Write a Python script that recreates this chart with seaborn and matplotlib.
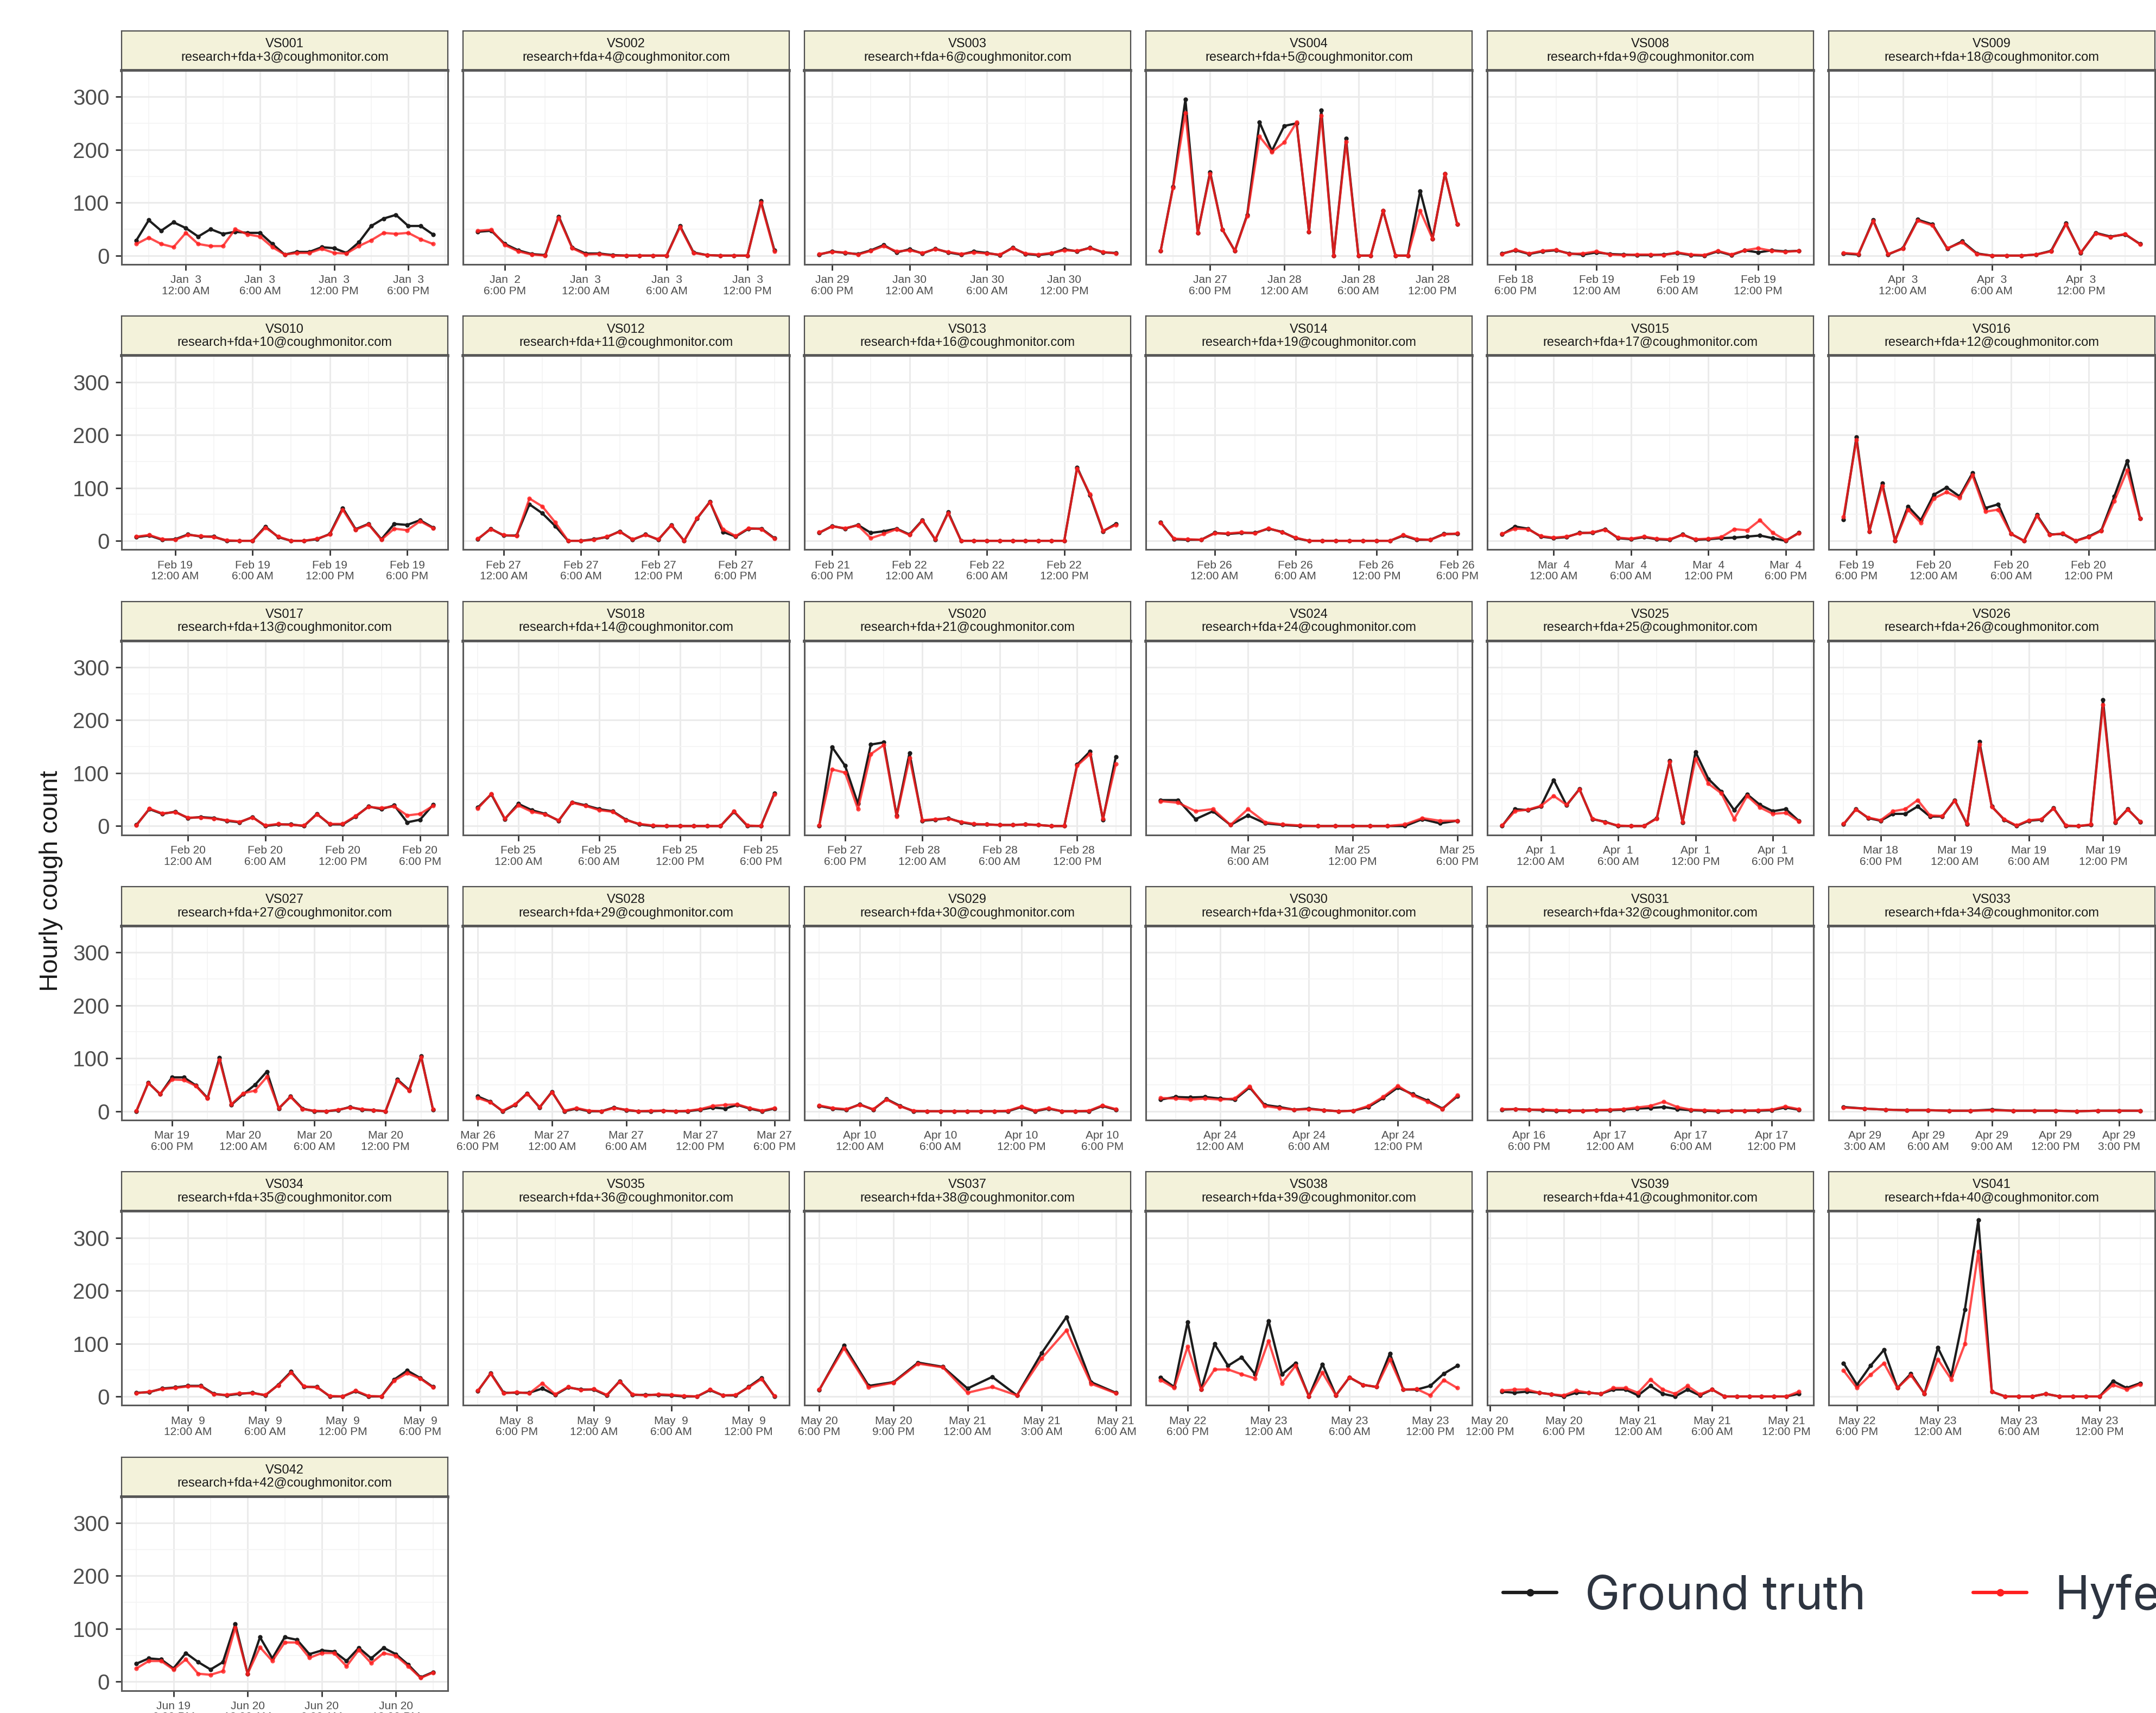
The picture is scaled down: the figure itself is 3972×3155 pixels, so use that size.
import matplotlib
matplotlib.use("Agg")
import matplotlib.pyplot as plt
import matplotlib.dates as mdates
from matplotlib.lines import Line2D
from matplotlib.ticker import AutoMinorLocator, MultipleLocator
import pandas as pd
import seaborn as sns

# ---- facets (facet_wrap order, 6 columns) ----
panel_ids = ["VS001", "VS002", "VS003", "VS004", "VS008", "VS009",
             "VS010", "VS012", "VS013", "VS014", "VS015", "VS016",
             "VS017", "VS018", "VS020", "VS024", "VS025", "VS026",
             "VS027", "VS028", "VS029", "VS030", "VS031", "VS033",
             "VS034", "VS035", "VS037", "VS038", "VS039", "VS041",
             "VS042"]
panel_emails = ["research+fda+%d@coughmonitor.com" % k for k in
                [3, 4, 6, 5, 9, 18, 10, 11, 16, 19, 17, 12, 13, 14, 21, 24,
                 25, 26, 27, 29, 30, 31, 32, 34, 35, 36, 38, 39, 41, 40, 42]]
panel_starts = ["2021-01-02 20:00", "2021-01-02 16:00", "2021-01-29 17:00",
                "2021-01-27 14:00", "2021-02-18 17:00", "2021-04-02 20:00",
                "2021-02-18 21:00", "2021-02-26 22:00", "2021-02-21 17:00",
                "2021-02-25 20:00", "2021-03-03 20:00", "2021-02-19 17:00",
                "2021-02-19 20:00", "2021-02-24 21:00", "2021-02-27 16:00",
                "2021-03-25 01:00", "2021-03-31 21:00", "2021-03-18 15:00",
                "2021-03-19 15:00", "2021-03-26 18:00", "2021-04-09 21:00",
                "2021-04-23 20:00", "2021-04-16 16:00", "2021-04-29 02:00",
                "2021-05-08 20:00", "2021-05-08 15:00", "2021-05-20 18:00",
                "2021-05-22 16:00", "2021-05-20 13:00", "2021-05-22 17:00",
                "2021-06-19 15:00"]
# hours between major x breaks
break_hours = [6] * 23 + [3] + [6, 6, 3] + [6] * 4

# ---- hourly counts ----
gt_vs001 = [29, 67, 47, 63, 52, 36, 50, 41, 45, 43, 43, 22, 2, 7, 7, 16, 14, 5, 25, 56, 70, 77, 56, 56, 40]
hy_vs001 = [22, 34, 22, 16, 43, 22, 18, 18, 50, 40, 36, 16, 2, 5, 5, 13, 5, 4, 18, 29, 43, 41, 43, 31, 22]
gt_vs002 = [45, 47, 22, 10, 3, 1, 74, 15, 4, 4, 1, 0, 0, 0, 0, 56, 6, 1, 0, 0, 0, 103, 10]
hy_vs002 = [47, 49, 20, 8, 2, 0, 72, 14, 2, 3, 0, 0, 0, 0, 0, 54, 5, 1, 0, 0, 0, 100, 8]
gt_vs003 = [2, 8, 5, 3, 10, 20, 6, 12, 4, 13, 6, 2, 8, 5, 1, 15, 3, 1, 4, 12, 8, 15, 6, 5]
hy_vs003 = [3, 7, 6, 2, 9, 18, 8, 10, 5, 12, 7, 3, 6, 4, 2, 14, 4, 2, 5, 10, 9, 14, 7, 4]
gt_vs004 = [9, 130, 295, 43, 158, 49, 9, 77, 252, 198, 245, 250, 45, 275, 0, 221, 0, 0, 85, 0, 0, 122, 32, 155, 59]
hy_vs004 = [9, 128, 270, 43, 155, 49, 9, 75, 225, 196, 214, 252, 45, 265, 0, 215, 0, 0, 85, 0, 0, 85, 32, 155, 59]
gt_vs008 = [4, 10, 3, 8, 10, 4, 2, 6, 3, 2, 1, 1, 2, 5, 1, 0, 8, 1, 10, 6, 10, 8, 9]
hy_vs008 = [3, 11, 4, 9, 11, 3, 4, 8, 2, 1, 2, 2, 1, 6, 2, 1, 9, 2, 10, 14, 9, 7, 9]
gt_vs009 = [4, 2, 67, 2, 14, 68, 59, 13, 27, 4, 0, 0, 0, 2, 9, 61, 5, 43, 36, 40, 22]
hy_vs009 = [5, 3, 65, 3, 13, 66, 57, 14, 25, 3, 0, 0, 0, 2, 8, 59, 6, 42, 35, 41, 21]
gt_vs010 = [7, 10, 2, 3, 12, 8, 8, 0, 0, 0, 27, 7, 0, 0, 3, 13, 62, 22, 32, 3, 32, 30, 39, 25]
hy_vs010 = [8, 11, 3, 2, 11, 9, 7, 1, 0, 0, 25, 8, 0, 0, 4, 12, 59, 21, 31, 2, 23, 20, 37, 24]
gt_vs012 = [3, 23, 10, 10, 69, 52, 28, 0, 0, 3, 7, 18, 2, 12, 2, 30, 0, 42, 74, 17, 8, 23, 23, 5]
hy_vs012 = [4, 22, 11, 9, 80, 65, 35, 0, 0, 2, 8, 17, 3, 11, 3, 29, 0, 43, 73, 22, 9, 24, 22, 4]
gt_vs013 = [15, 28, 23, 30, 15, 18, 23, 12, 39, 2, 54, 0, 0, 0, 0, 0, 0, 0, 0, 0, 139, 86, 18, 32]
hy_vs013 = [16, 27, 24, 29, 5, 13, 22, 11, 38, 3, 52, 0, 0, 0, 0, 0, 0, 0, 0, 0, 137, 88, 19, 30]
gt_vs014 = [35, 3, 2, 2, 15, 13, 15, 15, 23, 17, 5, 0, 0, 0, 0, 0, 0, 0, 10, 2, 2, 13, 13]
hy_vs014 = [34, 4, 3, 2, 14, 14, 16, 14, 24, 16, 6, 0, 0, 0, 0, 0, 0, 0, 11, 3, 2, 12, 14]
gt_vs015 = [12, 27, 23, 8, 5, 7, 15, 15, 22, 5, 3, 7, 3, 2, 12, 2, 3, 5, 6, 8, 10, 5, 0, 15]
hy_vs015 = [13, 23, 22, 9, 6, 8, 14, 16, 21, 6, 4, 8, 4, 3, 11, 3, 4, 7, 22, 20, 39, 15, 1, 14]
gt_vs016 = [40, 196, 18, 109, 0, 65, 39, 87, 101, 84, 128, 62, 69, 13, 0, 49, 12, 13, 0, 8, 20, 84, 151, 42]
hy_vs016 = [45, 191, 18, 104, 0, 59, 34, 80, 92, 81, 124, 55, 59, 13, 0, 47, 11, 14, 0, 7, 19, 75, 133, 42]
gt_vs017 = [2, 32, 23, 27, 15, 17, 15, 10, 7, 17, 0, 3, 3, 0, 23, 3, 3, 18, 37, 32, 39, 7, 12, 40]
hy_vs017 = [1, 33, 24, 26, 16, 16, 14, 11, 8, 16, 1, 4, 2, 1, 22, 4, 4, 19, 36, 34, 37, 20, 23, 38]
gt_vs018 = [35, 60, 13, 42, 30, 23, 10, 45, 39, 32, 28, 12, 3, 0, 0, 0, 0, 0, 0, 27, 0, 0, 62]
hy_vs018 = [33, 61, 14, 39, 27, 22, 11, 44, 38, 30, 27, 11, 4, 1, 0, 0, 0, 0, 0, 28, 1, 0, 60]
gt_vs020 = [0, 149, 114, 42, 154, 158, 20, 138, 10, 12, 15, 7, 3, 3, 2, 2, 3, 2, 0, 0, 116, 141, 12, 131]
hy_vs020 = [1, 107, 101, 32, 136, 153, 18, 129, 11, 13, 14, 8, 4, 3, 2, 2, 3, 2, 0, 0, 114, 136, 14, 117]
gt_vs024 = [49, 49, 13, 28, 2, 20, 5, 2, 0, 0, 0, 0, 0, 0, 0, 13, 5, 10]
hy_vs024 = [47, 44, 28, 32, 2, 32, 7, 3, 1, 0, 0, 0, 0, 0, 3, 15, 10, 10]
gt_vs025 = [0, 32, 30, 37, 87, 39, 70, 13, 8, 0, 0, 0, 15, 123, 7, 140, 89, 65, 30, 60, 40, 28, 32, 10]
hy_vs025 = [1, 28, 31, 38, 57, 40, 69, 14, 7, 1, 0, 0, 14, 121, 8, 127, 80, 62, 13, 57, 35, 23, 25, 9]
gt_vs026 = [3, 32, 15, 10, 23, 23, 37, 18, 18, 49, 3, 159, 37, 12, 0, 10, 12, 34, 0, 0, 2, 238, 7, 32, 8]
hy_vs026 = [4, 31, 16, 11, 28, 32, 49, 20, 19, 48, 4, 154, 36, 13, 1, 11, 13, 33, 1, 0, 3, 229, 8, 31, 9]
gt_vs027 = [0, 54, 32, 64, 64, 49, 25, 101, 12, 32, 50, 75, 5, 28, 5, 0, 0, 2, 8, 3, 2, 0, 60, 40, 104, 3]
hy_vs027 = [1, 53, 33, 60, 59, 48, 24, 97, 13, 34, 39, 65, 6, 27, 4, 1, 0, 3, 7, 4, 2, 0, 58, 39, 102, 4]
gt_vs028 = [28, 18, 0, 12, 34, 7, 37, 0, 5, 0, 0, 7, 2, 0, 0, 1, 0, 0, 3, 7, 5, 12, 5, 0, 5]
hy_vs028 = [25, 17, 1, 13, 33, 8, 36, 1, 6, 1, 0, 6, 3, 0, 1, 1, 0, 1, 4, 10, 12, 13, 6, 1, 6]
gt_vs029 = [10, 5, 3, 13, 3, 23, 10, 0, 0, 0, 0, 0, 0, 0, 0, 8, 0, 5, 0, 0, 0, 10, 3]
hy_vs029 = [11, 6, 4, 12, 4, 22, 9, 1, 0, 0, 0, 0, 0, 0, 1, 9, 1, 6, 0, 0, 1, 11, 4]
gt_vs030 = [22, 27, 26, 27, 24, 22, 45, 12, 8, 3, 5, 2, 0, 1, 8, 25, 45, 32, 20, 5, 28]
hy_vs030 = [25, 24, 22, 24, 22, 24, 47, 10, 6, 3, 4, 2, 0, 1, 10, 27, 48, 30, 18, 4, 30]
gt_vs031 = [3, 4, 3, 2, 1, 1, 1, 2, 2, 3, 5, 6, 8, 4, 2, 1, 0, 1, 1, 1, 2, 7, 3]
hy_vs031 = [4, 4, 3, 3, 2, 1, 1, 2, 3, 4, 7, 10, 18, 8, 3, 2, 1, 1, 1, 2, 3, 9, 4]
gt_vs033 = [8, 5, 3, 2, 2, 1, 1, 3, 1, 1, 1, 0, 1, 1, 1]
hy_vs033 = [7, 5, 3, 2, 2, 1, 1, 2, 1, 1, 1, 0, 1, 1, 1]
gt_vs034 = [7, 8, 15, 17, 20, 20, 5, 2, 5, 7, 2, 22, 47, 18, 18, 0, 0, 10, 0, 0, 32, 49, 35, 18]
hy_vs034 = [6, 9, 14, 16, 19, 19, 4, 3, 6, 6, 3, 21, 45, 19, 17, 1, 0, 11, 1, 0, 30, 44, 34, 17]
gt_vs035 = [10, 44, 7, 7, 7, 15, 3, 17, 13, 13, 2, 29, 3, 3, 3, 2, 0, 0, 12, 2, 2, 18, 35, 0]
hy_vs035 = [11, 43, 6, 8, 6, 25, 4, 18, 12, 14, 3, 28, 4, 2, 4, 3, 1, 0, 13, 2, 3, 17, 33, 1]
gt_vs037 = [12, 96, 20, 27, 64, 56, 15, 37, 2, 82, 150, 27, 7]
hy_vs037 = [13, 91, 17, 26, 62, 55, 7, 18, 2, 72, 125, 24, 6]
gt_vs038 = [36, 18, 141, 13, 99, 58, 74, 42, 143, 42, 63, 0, 61, 2, 36, 22, 18, 81, 13, 13, 20, 43, 58]
hy_vs038 = [31, 16, 94, 13, 51, 51, 42, 34, 105, 25, 58, 0, 45, 2, 36, 22, 18, 70, 13, 14, 2, 31, 16]
gt_vs039 = [9, 7, 9, 7, 4, 0, 7, 7, 5, 13, 13, 2, 20, 5, 0, 13, 2, 13, 0, 0, 0, 0, 0, 0, 5]
hy_vs039 = [11, 13, 13, 7, 4, 2, 11, 7, 5, 16, 16, 7, 32, 13, 5, 20, 4, 13, 0, 0, 0, 0, 0, 0, 9]
gt_vs041 = [63, 22, 58, 88, 16, 43, 5, 92, 40, 164, 333, 9, 0, 0, 0, 5, 0, 0, 0, 0, 29, 16, 25]
hy_vs041 = [49, 16, 41, 63, 16, 40, 5, 70, 32, 99, 274, 9, 0, 0, 0, 5, 0, 0, 0, 0, 22, 13, 23]
gt_vs042 = [34, 44, 42, 25, 54, 37, 23, 37, 109, 15, 84, 44, 84, 79, 52, 59, 57, 39, 64, 44, 64, 52, 32, 8, 18]
hy_vs042 = [25, 39, 39, 23, 42, 15, 13, 20, 102, 15, 65, 39, 74, 74, 45, 54, 54, 29, 60, 35, 54, 49, 29, 7, 17]

ground_truth = [gt_vs001, gt_vs002, gt_vs003, gt_vs004, gt_vs008, gt_vs009,
                gt_vs010, gt_vs012, gt_vs013, gt_vs014, gt_vs015, gt_vs016,
                gt_vs017, gt_vs018, gt_vs020, gt_vs024, gt_vs025, gt_vs026,
                gt_vs027, gt_vs028, gt_vs029, gt_vs030, gt_vs031, gt_vs033,
                gt_vs034, gt_vs035, gt_vs037, gt_vs038, gt_vs039, gt_vs041,
                gt_vs042]
hyfe = [hy_vs001, hy_vs002, hy_vs003, hy_vs004, hy_vs008, hy_vs009,
        hy_vs010, hy_vs012, hy_vs013, hy_vs014, hy_vs015, hy_vs016,
        hy_vs017, hy_vs018, hy_vs020, hy_vs024, hy_vs025, hy_vs026,
        hy_vs027, hy_vs028, hy_vs029, hy_vs030, hy_vs031, hy_vs033,
        hy_vs034, hy_vs035, hy_vs037, hy_vs038, hy_vs039, hy_vs041,
        hy_vs042]

SOURCES = ["Ground truth", "Hyfe"]
PALETTE = {"Ground truth": "#1c1c1c", "Hyfe": "#ff1f1f"}

frames = []
for pid, start, gt, hy in zip(panel_ids, panel_starts, ground_truth, hyfe):
    times = pd.date_range(start, periods=len(gt), freq="h")
    for src, vals in zip(SOURCES, [gt, hy]):
        frames.append(pd.DataFrame({"participant": pid, "time": times,
                                    "count": vals, "source": src}))
df = pd.concat(frames, ignore_index=True)

# ---- layout (pixels) ----
W, H = 3973, 3155
NCOL = 6
COL0, COL_STEP, PW = 224, 629, 601
ROW0, ROW_STEP = 57, 525.3
STRIP_H, PH = 73, 357

sns.set_theme(style="white")
plt.rcParams["font.family"] = ["Liberation Sans", "DejaVu Sans"]

fig = plt.figure(figsize=(W / 100, H / 100), dpi=100)


def px_axes(left, top, width, height):
    return fig.add_axes([left / W, 1 - (top + height) / H, width / W, height / H])


ymax = df["count"].max()
ylim = (-0.05 * ymax, ymax * 1.05)

for i, (pid, email) in enumerate(zip(panel_ids, panel_emails)):
    r, c = divmod(i, NCOL)
    left = COL0 + c * COL_STEP
    top = ROW0 + r * ROW_STEP

    # strip
    sax = px_axes(left, top, PW, STRIP_H)
    sax.set_facecolor("#f3f2da")
    sax.set_xticks([]); sax.set_yticks([])
    for side, sp in sax.spines.items():
        sp.set_color("#4d4d4d"); sp.set_linewidth(1.6)
    sax.spines["bottom"].set_linewidth(4)
    sax.text(0.5, 0.5, f"{pid}\n{email}", ha="center", va="center",
             fontsize=17, color="#1a1a1a", linespacing=1.15,
             transform=sax.transAxes)

    # panel
    ax = px_axes(left, top + STRIP_H, PW, PH)
    sub = df[df["participant"] == pid]
    for src, alpha in zip(SOURCES, [1.0, 0.8]):
        sns.lineplot(data=sub[sub["source"] == src], x="time", y="count",
                     color=PALETTE[src], alpha=alpha, linewidth=3.0,
                     marker="o", markersize=6, markeredgewidth=0,
                     errorbar=None, legend=False, ax=ax)

    t0, t1 = sub["time"].min(), sub["time"].max()
    pad = (t1 - t0) * 0.05
    ax.set_xlim(mdates.date2num(t0 - pad), mdates.date2num(t1 + pad))
    ax.set_ylim(*ylim)
    ax.xaxis.set_major_locator(mdates.HourLocator(byhour=range(0, 24, break_hours[i])))
    ax.xaxis.set_minor_locator(AutoMinorLocator(2))
    ax.xaxis.set_major_formatter(mdates.DateFormatter("%b %e\n%-I:%M %p"))
    ax.yaxis.set_major_locator(MultipleLocator(100))
    ax.yaxis.set_minor_locator(MultipleLocator(50))
    ax.set_xlabel(""); ax.set_ylabel("")

    ax.grid(True, which="major", color="#ebebeb", linewidth=2.2)
    ax.grid(True, which="minor", color="#f4f4f4", linewidth=1.3)
    ax.set_axisbelow(True)
    for sp in ax.spines.values():
        sp.set_color("#5a5a5a"); sp.set_linewidth(2.2)

    ax.tick_params(axis="x", which="major", bottom=True, length=8, width=2,
                   color="#333333", labelsize=15, labelcolor="#4d4d4d", pad=6)
    ax.tick_params(axis="x", which="minor", bottom=False)
    ax.tick_params(axis="y", which="minor", left=False)
    if c == 0:
        ax.tick_params(axis="y", which="major", left=True, length=8, width=2,
                       color="#333333", labelsize=29, labelcolor="#4d4d4d", pad=8)
    else:
        ax.tick_params(axis="y", which="major", left=False, labelleft=False)
    for lab in ax.get_xticklabels():
        lab.set_linespacing(1.1)

fig.text(94 / W, 1 - 1622 / H, "Hourly cough count", rotation=90,
         ha="center", va="center", fontsize=34, color="#1a1a1a")

handles = [Line2D([], [], color=PALETTE[s], linewidth=4.5, marker="o",
                  markersize=10, markeredgewidth=0) for s in SOURCES]
fig.legend(handles, SOURCES, loc="center left",
           bbox_to_anchor=(2769 / W, 1 - 2940 / H), ncol=2, frameon=False,
           handlelength=1.15, handletextpad=0.6,
           columnspacing=2.3, borderpad=0, borderaxespad=0,
           prop={"family": ["Inter", "DejaVu Sans"], "size": 62},
           labelcolor="#2d3440")

fig.savefig("out.png", dpi=100)
